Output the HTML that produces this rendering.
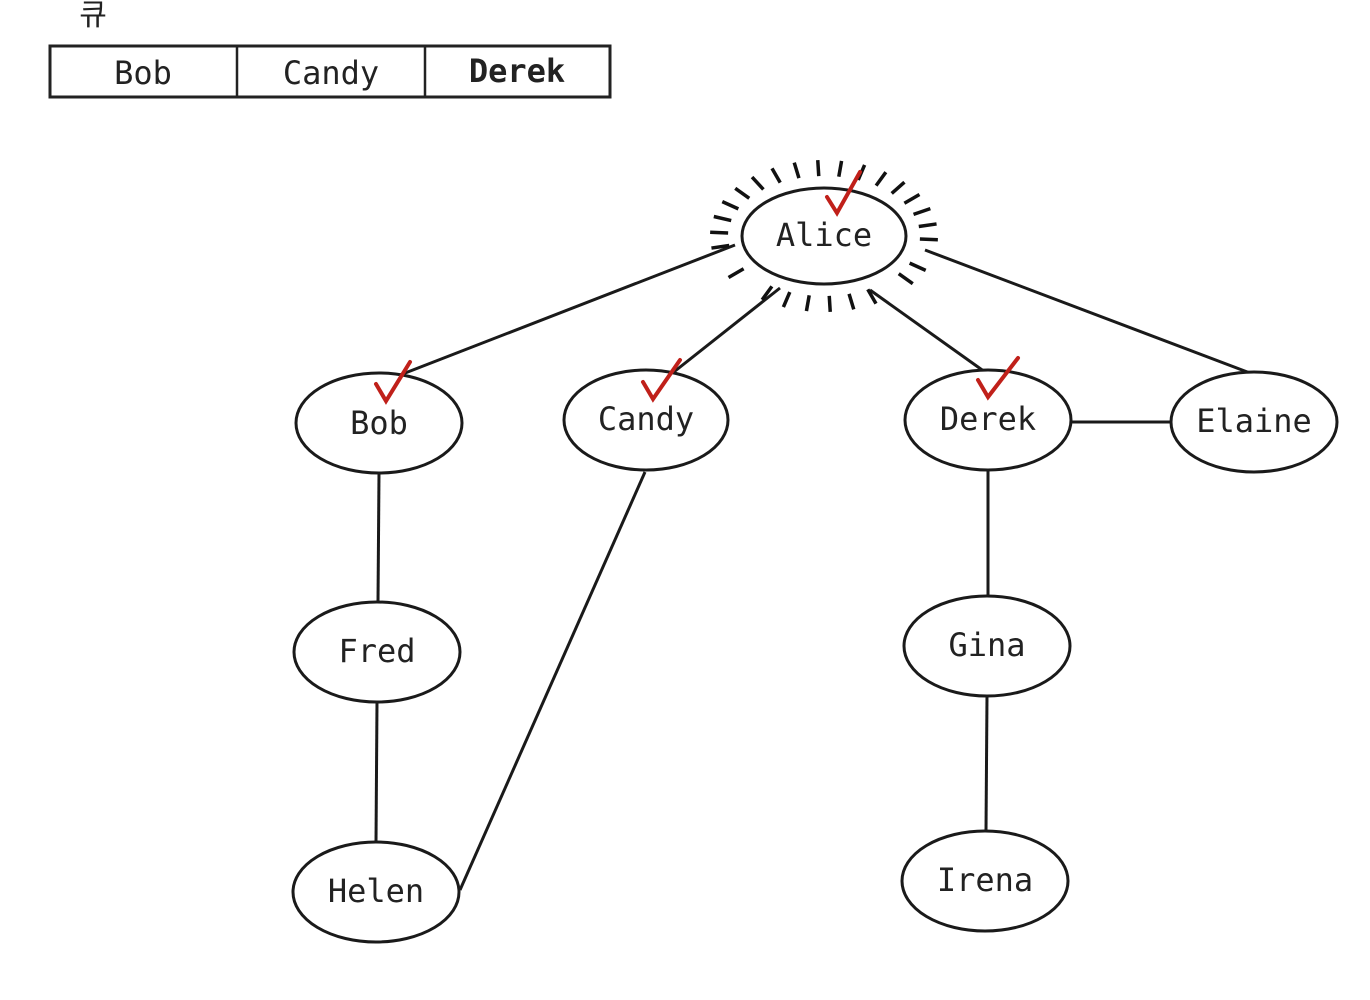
<!DOCTYPE html>
<html><head><meta charset="utf-8"><style>
html,body{margin:0;padding:0;background:#fff;}
svg{display:block}
text{font-family:"DejaVu Sans Mono","Liberation Mono",monospace;fill:#222}
</style></head><body>
<svg id="s" width="1370" height="1000" viewBox="0 0 1370 1000" xmlns="http://www.w3.org/2000/svg">
<text x="93" y="25" font-size="30" text-anchor="middle" style="font-family:'Noto Sans CJK KR',sans-serif" fill="#444">큐</text>
<rect x="50" y="46" width="560" height="51" fill="none" stroke="#222" stroke-width="3"/>
<line x1="237" y1="46" x2="237" y2="97" stroke="#222" stroke-width="2.5"/>
<line x1="425" y1="46" x2="425" y2="97" stroke="#222" stroke-width="2.5"/>
<text x="143" y="84" font-size="32" text-anchor="middle" fill="#333">Bob</text>
<text x="331" y="84" font-size="32" text-anchor="middle" fill="#333">Candy</text>
<text x="517" y="82" font-size="32" text-anchor="middle" font-weight="bold" fill="#111">Derek</text>
<g stroke="#1a1a1a" stroke-width="3" fill="none">
<line x1="735" y1="245" x2="400" y2="375"/>
<line x1="780" y1="288" x2="670" y2="375"/>
<line x1="870" y1="290" x2="985" y2="372"/>
<line x1="925" y1="250" x2="1250" y2="373"/>
<line x1="1070" y1="422" x2="1172" y2="422"/>
<line x1="379" y1="473" x2="378" y2="602"/>
<line x1="377" y1="702" x2="376" y2="842"/>
<line x1="645" y1="472" x2="460" y2="890"/>
<line x1="988" y1="470" x2="988" y2="596"/>
<line x1="987" y1="696" x2="986" y2="831"/>
</g>
<g id="rays" stroke="#111" stroke-width="3.5"></g>
<g stroke="#1a1a1a" stroke-width="3" fill="#fff">
<ellipse cx="824" cy="236" rx="82" ry="48"/>
<ellipse cx="379" cy="423" rx="83" ry="50"/>
<ellipse cx="646" cy="420" rx="82" ry="50"/>
<ellipse cx="988" cy="420" rx="83" ry="50"/>
<ellipse cx="1254" cy="422" rx="83" ry="50"/>
<ellipse cx="377" cy="652" rx="83" ry="50"/>
<ellipse cx="987" cy="646" rx="83" ry="50"/>
<ellipse cx="376" cy="892" rx="83" ry="50"/>
<ellipse cx="985" cy="881" rx="83" ry="50"/>
</g>
<g font-size="32" text-anchor="middle">
<text x="824" y="246">Alice</text>
<text x="379" y="434">Bob</text>
<text x="646" y="430">Candy</text>
<text x="988" y="430">Derek</text>
<text x="1254" y="432">Elaine</text>
<text x="377" y="662">Fred</text>
<text x="987" y="656">Gina</text>
<text x="376" y="902">Helen</text>
<text x="985" y="891">Irena</text>
</g>
<g stroke="#c0201a" stroke-width="4" fill="none" stroke-linecap="round">
<path d="M827 197 L837 213 L860 172"/>
<path d="M376 384 L386 401 L410 362"/>
<path d="M643 382 L653 399 L680 360"/>
<path d="M978 380 L988 397 L1018 358"/>
</g>
</svg>
<script>
var g=document.getElementById('rays'),ns="http://www.w3.org/2000/svg";
for(var i=0;i<30;i++){var a=i*Math.PI*2/30+0.05;
var deg=a*180/Math.PI%360;
if(Math.abs(deg-163)<6||Math.abs(deg-130)<6||Math.abs(deg-55)<6||Math.abs(deg-15)<6)continue;
var c=Math.cos(a),s=Math.sin(a);
var l=document.createElementNS(ns,'line');
l.setAttribute('x1',824+c*96);l.setAttribute('y1',236+s*60);
l.setAttribute('x2',824+c*114);l.setAttribute('y2',236+s*76);
g.appendChild(l);}
</script>
</body></html>
